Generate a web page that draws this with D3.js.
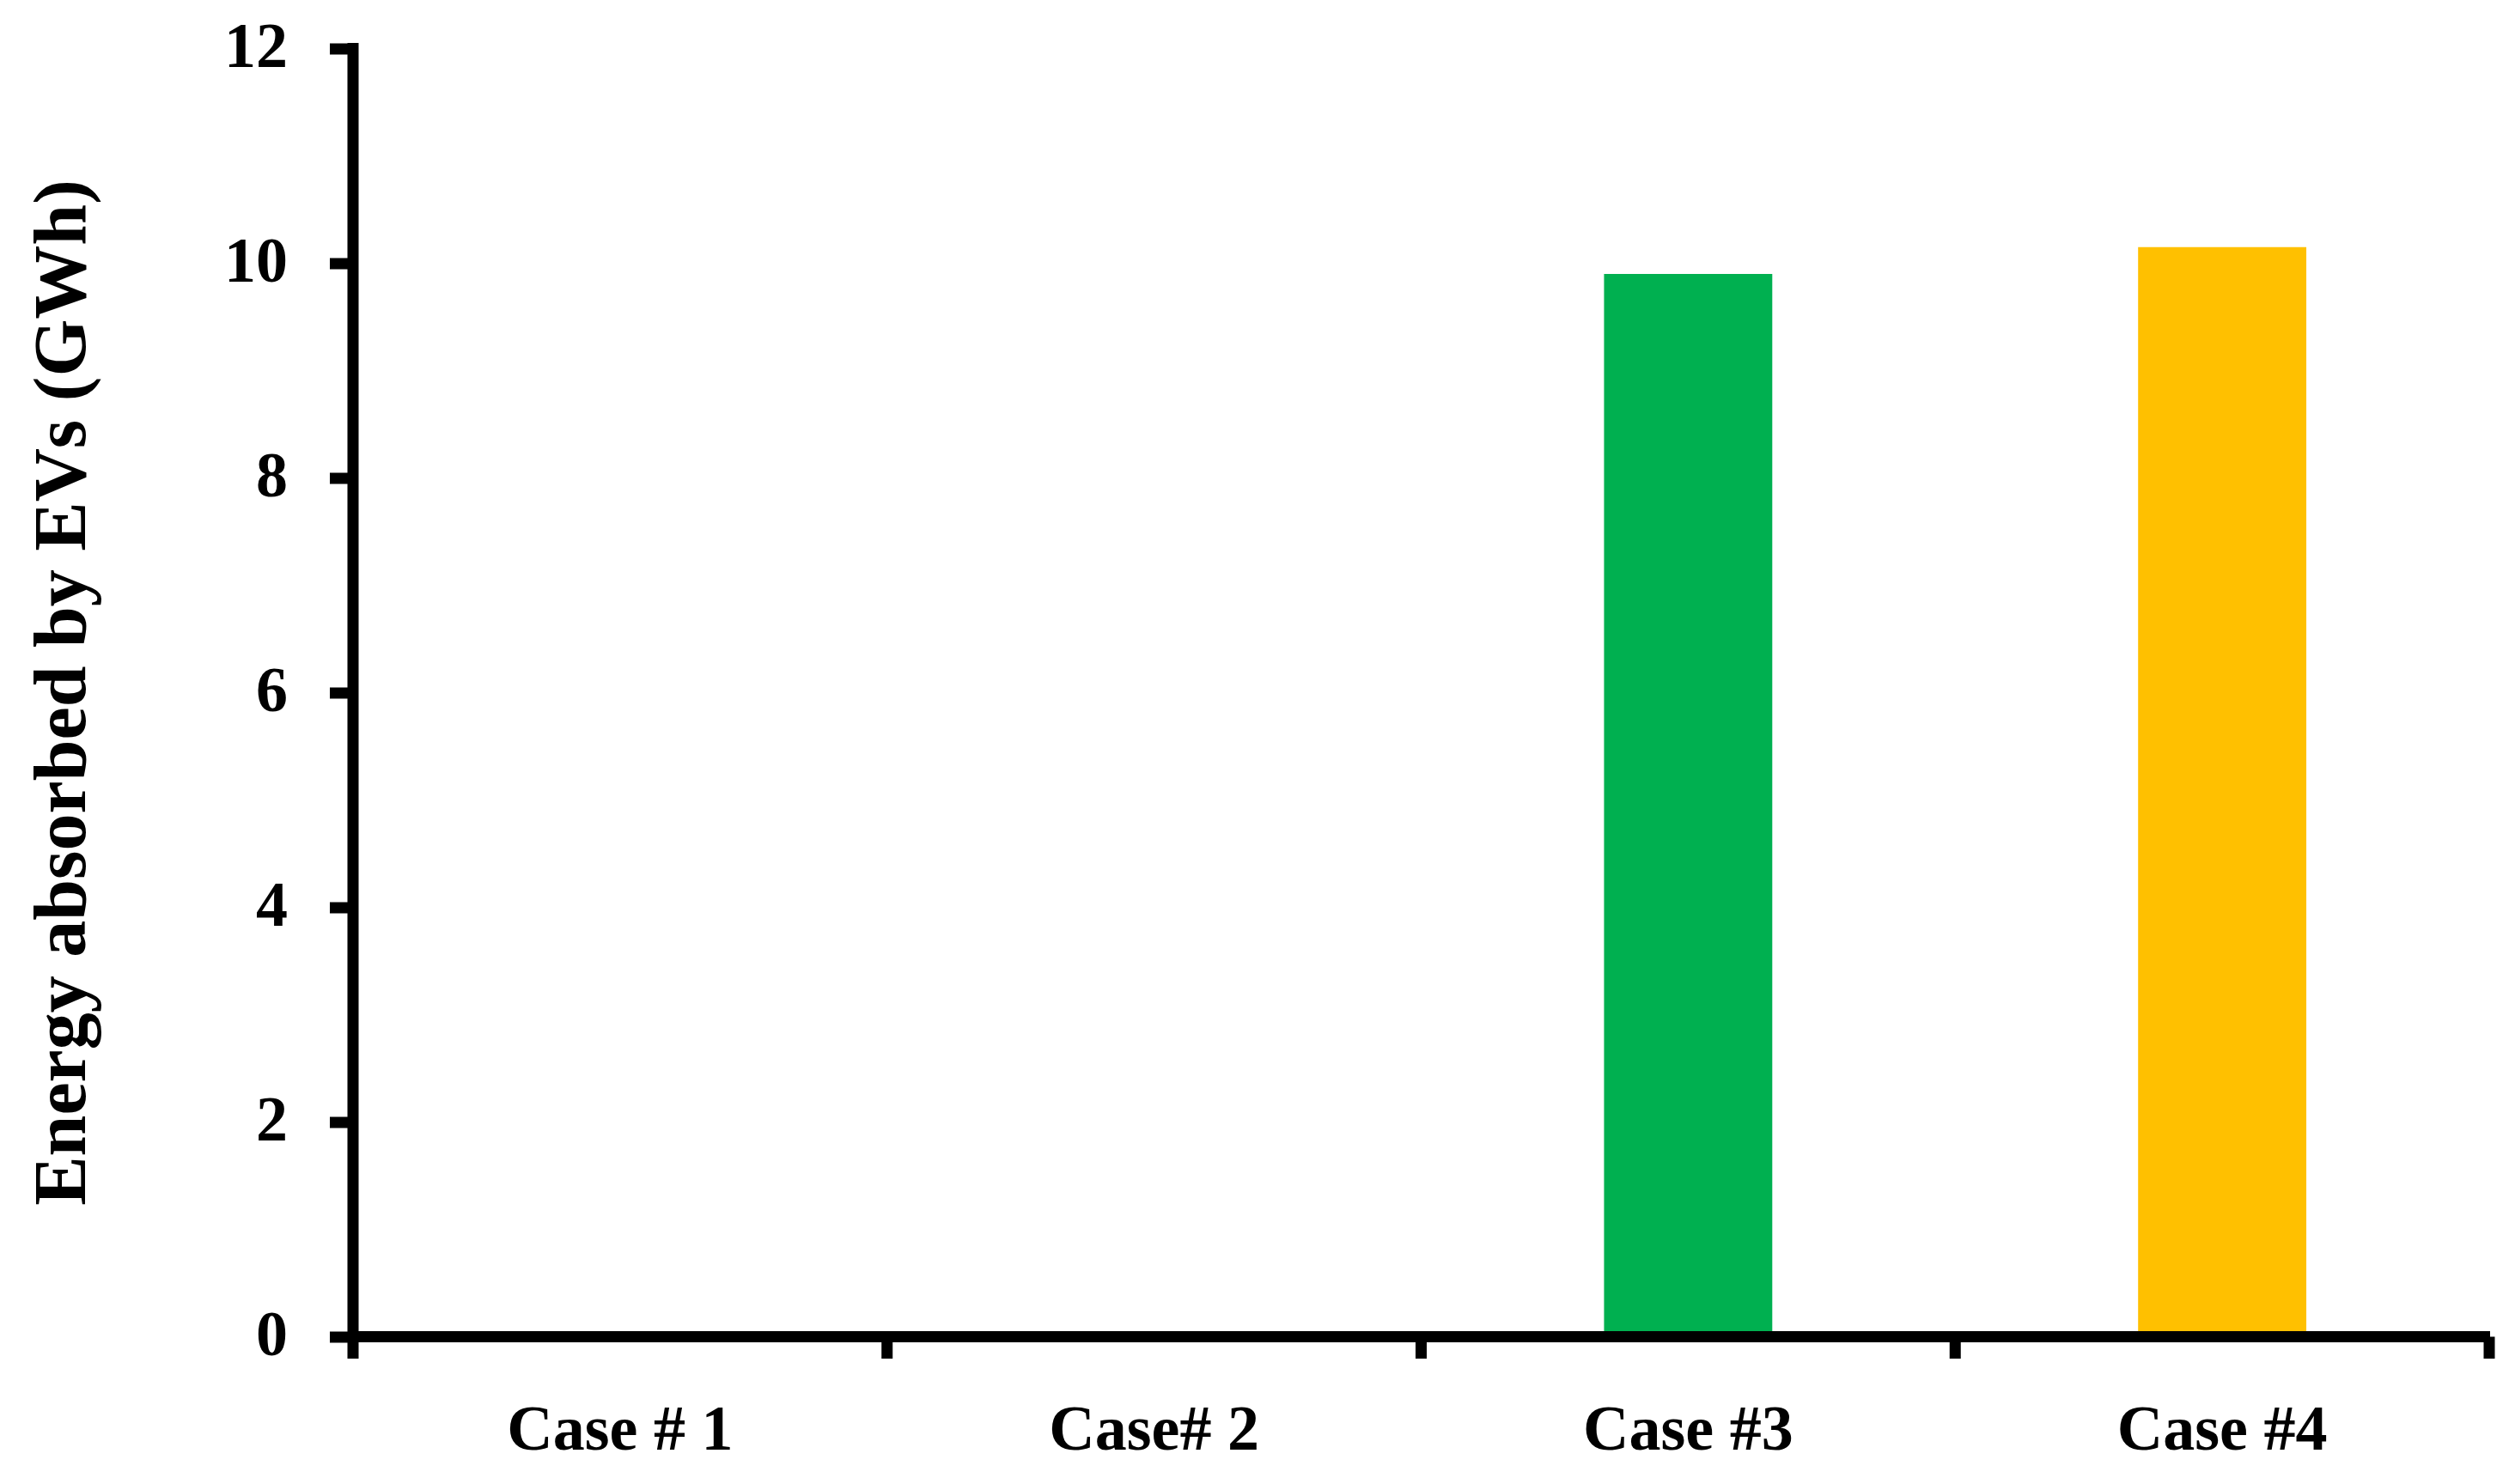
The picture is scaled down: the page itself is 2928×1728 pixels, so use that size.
<!DOCTYPE html>
<html>
<head>
<meta charset="utf-8">
<script src="https://cdn.jsdelivr.net/npm/d3@7"></script>
<style>
  body { margin: 0; background: #fff; }
  text { font-family: "Liberation Serif", "Times New Roman", serif; font-weight: bold; fill: #000; }
</style>
</head>
<body>
<svg width="2928" height="1728"></svg>
<script>
// chart data
var categories = ["Case # 1", "Case# 2", "Case #3", "Case #4"];
var energyGWh = [0, 0, 9.9, 10.15];
var barColors = ["#00B050", "#00B050", "#00B050", "#FFC000"];
var yTicks = [0, 2, 4, 6, 8, 10, 12];
var yLabel = "Energy absorbed by EVs (GWh)";

function createGraph() {
	var svg = d3.select("svg"),
	margin = {top: 56.5, right: 30, bottom: 171.5, left: 411},
	width = +svg.attr("width") - margin.left - margin.right,
	height = +svg.attr("height") - margin.top - margin.bottom,
	g = svg.append("g").attr("transform", "translate(" + margin.left + "," + margin.top + ")");

	// category bands, ticks sit on band edges like Excel
	var x = d3.scaleBand()
		.domain(categories)
		.range([0, width])
		.paddingInner(0)
		.paddingOuter(0);
	var y = d3.scaleLinear()
		.domain([0, 12])
		.range([height, 0]);

	var barW = x.bandwidth() * 0.315;

	// bars
	g.selectAll("rect.bar")
		.data(energyGWh).enter().append("rect")
		.attr("class", "bar")
		.attr("x", function(d, i) { return x(categories[i]) + (x.bandwidth() - barW) / 2; })
		.attr("y", function(d) { return y(d); })
		.attr("width", barW)
		.attr("height", function(d) { return y(0) - y(d); })
		.attr("fill", function(d, i) { return barColors[i]; });

	// y axis
	var yAxis = g.append("g")
		.call(d3.axisLeft(y).tickValues(yTicks).tickSize(27).tickSizeOuter(0).tickPadding(49));
	yAxis.select(".domain").remove();
	yAxis.selectAll(".tick line").attr("stroke", "#000").attr("stroke-width", 13);
	yAxis.selectAll(".tick text")
		.attr("dy", "0.29em")
		.style("font-size", "74px");
	g.append("line")
		.attr("x1", 0).attr("x2", 0)
		.attr("y1", y(12) - 6.5).attr("y2", y(0))
		.attr("stroke", "#000").attr("stroke-width", 13);

	// x axis line
	g.append("line")
		.attr("x1", 0).attr("x2", width + 1)
		.attr("y1", y(0)).attr("y2", y(0))
		.attr("stroke", "#000").attr("stroke-width", 13);

	// boundary ticks
	var edges = categories.map(function(c) { return x(c); });
	edges.push(x(categories[categories.length - 1]) + x.bandwidth());
	g.selectAll("line.xtick")
		.data(edges).enter().append("line")
		.attr("x1", function(d) { return d; })
		.attr("x2", function(d) { return d; })
		.attr("y1", y(0))
		.attr("y2", y(0) + 25.5)
		.attr("stroke", "#000").attr("stroke-width", 13);

	// category labels
	g.selectAll("text.xlabel")
		.data(categories).enter().append("text")
		.attr("x", function(d) { return x(d) + x.bandwidth() / 2; })
		.attr("y", y(0) + 131.5)
		.attr("text-anchor", "middle")
		.style("font-size", "74px")
		.text(function(d) { return d; });

	// y axis title
	svg.append("text")
		.attr("transform", "translate(99," + (margin.top + height / 2) + ") rotate(-90)")
		.attr("text-anchor", "middle")
		.style("font-size", "86px")
		.text(yLabel);
}
createGraph();
</script>
</body>
</html>
